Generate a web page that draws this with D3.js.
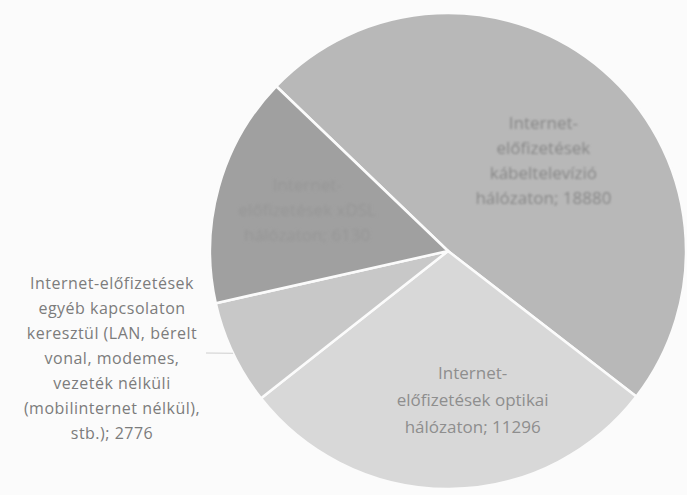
<!DOCTYPE html>
<html>
<head>
<meta charset="utf-8">
<script src="https://cdn.jsdelivr.net/npm/d3@7"></script>
<style>
  html, body { margin: 0; padding: 0; background: #fbfbfb; }
  svg { display: block; }
  text { font-family: "Open Sans", "Noto Sans", sans-serif; }
</style>
</head>
<body>
<svg id="chart" width="687" height="495"></svg>
<script>
// Internet subscriptions by connection type
const categories = [
  "kábeltelevízió",
  "optikai",
  "egyéb",
  "xDSL"
];
const values = [18880, 11296, 2776, 6130];
const labelLines = [
  ["Internet-", "előfizetések", "kábeltelevízió", "hálózaton; 18880"],
  ["Internet-", "előfizetések optikai", "hálózaton; 11296"],
  ["Internet-előfizetések", "egyéb kapcsolaton", "keresztül (LAN, bérelt", "vonal, modemes,", "vezeték nélküli", "(mobilinternet nélkül),", "stb.); 2776"],
  ["Internet-", "előfizetések xDSL", "hálózaton; 6130"]
];

const fills = ["#b8b8b8", "#d8d8d8", "#c8c8c8", "#a0a0a0"];
const textFills = ["#878787", "#8e8e8e", "#7c7c7c", "#959595"];
const blurs = [1.0, 0, 0, 1.4];
const labelNudge = [[4, 17], [24, 10], [0, 0], [-6, -2]];
const lineSteps = [25, 27, 25, 25];

const svg = d3.select("#chart");
const cx = 448, cy = 251, R = 238;

const defs = svg.append("defs");
blurs.forEach((b, i) => {
  if (b > 0) {
    defs.append("filter").attr("id", "soft" + i)
      .append("feGaussianBlur").attr("stdDeviation", b);
  }
});

const data = categories.map((c, i) => ({ cat: c, value: values[i], i }));

const pie = d3.pie()
  .value(d => d.value)
  .sort(null)
  .startAngle(-46.2 * Math.PI / 180)
  .endAngle(-46.2 * Math.PI / 180 + 2 * Math.PI);

const arcs = pie(data);
const arc = d3.arc().innerRadius(0).outerRadius(R);
const labelArc = d3.arc().innerRadius(140).outerRadius(140);
const edgeArc = d3.arc().innerRadius(R).outerRadius(R);

const g = svg.append("g").attr("transform", `translate(${cx},${cy})`);

g.selectAll("path.slice")
  .data(arcs)
  .join("path")
  .attr("class", "slice")
  .attr("d", arc)
  .attr("fill", d => fills[d.data.i])
  .attr("stroke", "#fbfbfb")
  .attr("stroke-width", 2.5)
  .attr("stroke-linejoin", "round");

// labels inside slices
arcs.forEach(d => {
  const i = d.data.i;
  if (i === 2) return;
  const [x, y] = labelArc.centroid(d);
  const lines = labelLines[i];
  const t = g.append("text")
    .attr("text-anchor", "middle")
    .attr("font-size", 17)
    .attr("fill", textFills[i])
    .attr("filter", blurs[i] > 0 ? `url(#soft${i})` : null);
  lines.forEach((ln, k) => {
    t.append("tspan")
      .attr("x", x + labelNudge[i][0])
      .attr("y", y + labelNudge[i][1] + (k - (lines.length - 1) / 2) * lineSteps[i] + 5)
      .text(ln);
  });
});

// outside label with leader line for the small slice
const small = arcs[2];
const edge = edgeArc.centroid(small);
const outerX = -cx + 112, outerTop = -cy + 289;
g.append("line")
  .attr("x1", -cx + 206).attr("y1", -cy + 353)
  .attr("x2", edge[0]).attr("y2", edge[1])
  .attr("stroke", "#cfcfcf")
  .attr("stroke-width", 1);
const tl = g.append("text")
  .attr("text-anchor", "middle")
  .attr("font-size", 16)
  .attr("letter-spacing", 0.5)
  .attr("fill", textFills[2]);
labelLines[2].forEach((ln, k) => {
  tl.append("tspan")
    .attr("x", outerX)
    .attr("y", outerTop + k * lineSteps[2])
    .text(ln);
});
</script>
</body>
</html>
